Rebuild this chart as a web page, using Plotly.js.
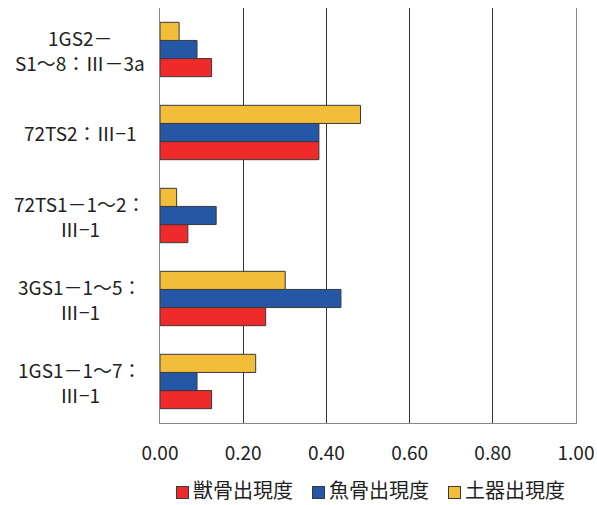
<!DOCTYPE html>
<html>
<head>
<meta charset="utf-8">
<script src="https://cdn.plot.ly/plotly-3.0.1.min.js"></script>
<style>
  html, body { margin: 0; padding: 0; background: #fff; }
  #chart { width: 597px; height: 505px; }
</style>
</head>
<body>
<div id="chart"></div>
<script>
// Sites, listed top to bottom (line breaks as "<br>")
const sites = [
  "1GS2－<br>S1～8：Ⅲ－3a",
  "72TS2：Ⅲ−1",
  "72TS1－1～2：<br>Ⅲ−1",
  "3GS1－1～5：<br>Ⅲ−1",
  "1GS1－1～7：<br>Ⅲ−1"
];
const seriesNames = ["獣骨出現度", "魚骨出現度", "土器出現度"];
const animalBone = [0.124, 0.382, 0.067, 0.254, 0.124];
const fishBone   = [0.089, 0.382, 0.135, 0.435, 0.089];
const pottery    = [0.046, 0.482, 0.040, 0.301, 0.230];
const tickVals = [0, 0.2, 0.4, 0.6, 0.8, 1.0];
const tickText = ["0.00", "0.20", "0.40", "0.60", "0.80", "1.00"];

const colors = ["#EE2A2A", "#2457A6", "#F2BE3A"];
const values = [animalBone, fishBone, pottery];
const FONT = "'Noto Sans CJK JP', 'Noto Sans', sans-serif";

// plot-area geometry in pixels
const W = 597, H = 505;
const M = { l: 160, r: 21, t: 8, b: 82 };
const PW = W - M.l - M.r, PH = H - M.t - M.b;
const px2x = p => (p - M.l) / PW;
const py2y = p => (H - M.b - p) / PH;

const traces = values.map((v, i) => ({
  type: "bar",
  orientation: "h",
  name: seriesNames[i],
  x: v,
  y: sites,
  marker: { color: colors[i], line: { color: "#3a3a3a", width: 1 } },
  hoverinfo: "skip",
  showlegend: false
}));

// category labels: each line centred under the previous one
const annotations = [];
sites.forEach(s => {
  const lines = s.split("<br>");
  const step = 25;
  lines.forEach((ln, k) => {
    annotations.push({
      xref: "paper", yref: "y",
      x: px2x(80), y: s,
      yshift: ((lines.length - 1) / 2 - k) * step,
      text: ln,
      showarrow: false,
      xanchor: "center", yanchor: "middle",
      font: { family: FONT, size: 19, color: "#222" }
    });
  });
});

// legend row below the axis: a bordered swatch followed by the series name
const legendY = py2y(490);
const swatchCenters = [182, 318, 454];
seriesNames.forEach((name, i) => {
  annotations.push({
    xref: "paper", yref: "paper",
    x: px2x(swatchCenters[i]), y: py2y(492),
    text: " ",
    showarrow: false,
    xanchor: "center", yanchor: "middle",
    width: 11, height: 11,
    bgcolor: colors[i],
    bordercolor: "#3a3a3a", borderwidth: 1, borderpad: 0,
    font: { size: 4 }
  });
  annotations.push({
    xref: "paper", yref: "paper",
    x: px2x(swatchCenters[i] + 10), y: legendY,
    text: name,
    showarrow: false,
    xanchor: "left", yanchor: "middle",
    borderpad: 0,
    font: { family: FONT, size: 20, color: "#222" }
  });
});

const layout = {
  width: W, height: H,
  margin: Object.assign({ autoexpand: false }, M),
  paper_bgcolor: "#fff", plot_bgcolor: "#fff",
  barmode: "group",
  bargap: 0.345,
  bargroupgap: 0,
  showlegend: false,
  xaxis: {
    range: [0, 1],
    tickvals: tickVals,
    ticktext: tickText,
    showgrid: true,
    gridcolor: "#333",
    gridwidth: 1,
    zeroline: false,
    showline: true,
    linecolor: "#888",
    linewidth: 1,
    ticks: "",
    ticklabelstandoff: 13,
    tickfont: { family: FONT, size: 19, color: "#222" },
    fixedrange: true
  },
  yaxis: {
    type: "category",
    categoryorder: "array",
    categoryarray: sites.slice().reverse(),
    showticklabels: false,
    showgrid: false,
    zeroline: false,
    showline: true,
    mirror: true,
    linecolor: "#888",
    linewidth: 1,
    ticks: "",
    fixedrange: true
  },
  annotations: annotations
};

Plotly.newPlot("chart", traces, layout, { displayModeBar: false, staticPlot: true });
</script>
</body>
</html>
